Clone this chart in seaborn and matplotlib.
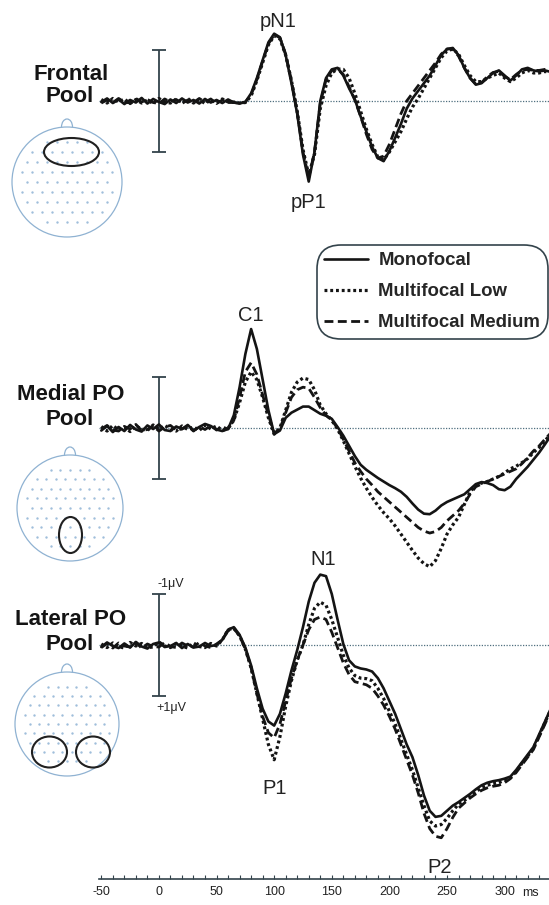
import numpy as np
import pandas as pd
import matplotlib
matplotlib.use('Agg')
import matplotlib.pyplot as plt
from matplotlib.patches import Circle, Ellipse, Arc
from matplotlib.lines import Line2D
import seaborn as sns

sns.set_style('white')
plt.rcParams['font.family'] = ['Liberation Sans', 'DejaVu Sans']

# ── DATA (µV, negative up) sampled every 5 ms from -50 to 340 ms ──────────
time_ms = np.arange(-50, 341, 5)
conditions = ['Monofocal', 'Multifocal Low', 'Multifocal Medium']

frontal_mono = [0.02, -0.05, 0.04, -0.03, 0.06, -0.02, 0.03, -0.06, 0.05, -0.04,
                0.02, 0.06, -0.03, 0.04, -0.05, 0.03, -0.02, 0.05, -0.04, 0.03,
                -0.02, 0.04, -0.03, 0.03, 0.05, 0.02, -0.15, -0.45, -0.8, -1.15,
                -1.32, -1.25, -0.9, -0.35, 0.25, 1.05, 1.58, 1.0, 0.0, -0.45,
                -0.62, -0.65, -0.5, -0.25, -0.03, 0.3, 0.6, 0.9, 1.12, 1.18,
                0.98, 0.72, 0.45, 0.15, -0.05, -0.2, -0.35, -0.5, -0.7, -0.9,
                -1.02, -1.04, -0.9, -0.65, -0.45, -0.32, -0.35, -0.45, -0.55, -0.6,
                -0.5, -0.4, -0.5, -0.62, -0.65, -0.6, -0.58, -0.6, -0.57]
frontal_low = [-0.03, 0.04, -0.05, 0.02, -0.04, 0.05, -0.03, 0.04, -0.02, 0.05,
               -0.05, 0.02, 0.04, -0.04, 0.03, -0.05, 0.04, -0.03, 0.05, -0.02,
               0.04, -0.04, 0.02, 0.02, 0.04, 0.03, -0.1, -0.4, -0.75, -1.1,
               -1.28, -1.22, -0.9, -0.4, 0.2, 0.95, 1.45, 1.05, 0.15, -0.3,
               -0.55, -0.63, -0.62, -0.45, -0.15, 0.2, 0.55, 0.85, 1.1, 1.15,
               1.0, 0.8, 0.6, 0.35, 0.12, -0.05, -0.25, -0.45, -0.65, -0.85,
               -0.98, -1.02, -0.92, -0.7, -0.5, -0.38, -0.38, -0.45, -0.5, -0.55,
               -0.45, -0.38, -0.45, -0.55, -0.6, -0.55, -0.55, -0.58, -0.55]
frontal_med = [0.04, -0.02, 0.03, -0.05, 0.02, 0.04, -0.05, 0.02, -0.03, 0.03,
               0.05, -0.04, 0.02, -0.03, 0.05, -0.02, 0.03, -0.05, 0.02, -0.04,
               0.05, -0.02, 0.03, 0.03, 0.04, 0.02, -0.12, -0.42, -0.78, -1.12,
               -1.3, -1.24, -0.92, -0.4, 0.22, 1.0, 1.5, 1.0, 0.05, -0.42,
               -0.6, -0.63, -0.52, -0.28, -0.02, 0.3, 0.65, 0.95, 1.12, 1.08,
               0.85, 0.55, 0.25, 0.0, -0.15, -0.3, -0.45, -0.6, -0.75, -0.92,
               -1.02, -1.02, -0.88, -0.65, -0.45, -0.33, -0.36, -0.48, -0.56, -0.58,
               -0.48, -0.42, -0.52, -0.6, -0.62, -0.6, -0.6, -0.62, -0.6]

medial_mono = [0.05, -0.04, 0.08, -0.02, 0.06, -0.06, 0.03, 0.07, -0.05, 0.02,
               -0.07, 0.04, 0.06, -0.03, 0.02, -0.06, 0.05, -0.02, -0.08, -0.04,
               0.03, 0.06, 0.02, -0.25, -0.8, -1.45, -1.94, -1.55, -0.95, -0.35,
               0.12, 0.05, -0.2, -0.3, -0.36, -0.42, -0.42, -0.35, -0.28, -0.24,
               -0.18, -0.02, 0.15, 0.35, 0.55, 0.72, 0.82, 0.9, 0.98, 1.05,
               1.12, 1.18, 1.25, 1.35, 1.48, 1.6, 1.68, 1.69, 1.62, 1.52,
               1.45, 1.4, 1.35, 1.3, 1.2, 1.1, 1.06, 1.08, 1.12, 1.2,
               1.22, 1.15, 1.0, 0.88, 0.76, 0.62, 0.48, 0.32, 0.15]
medial_low = [-0.03, 0.06, -0.05, 0.04, -0.02, 0.07, -0.04, 0.02, 0.05, -0.06,
              0.03, -0.05, 0.02, 0.06, -0.04, 0.03, -0.02, 0.05, -0.06, 0.02,
              -0.04, 0.05, 0.0, -0.15, -0.5, -0.9, -1.1, -0.95, -0.6, -0.2,
              0.12, 0.0, -0.35, -0.7, -0.9, -0.98, -0.95, -0.75, -0.45, -0.28,
              -0.15, 0.02, 0.25, 0.5, 0.75, 0.98, 1.18, 1.36, 1.52, 1.66,
              1.78, 1.92, 2.08, 2.24, 2.4, 2.55, 2.66, 2.72, 2.6, 2.36,
              2.08, 1.9, 1.75, 1.5, 1.25, 1.12, 1.08, 1.05, 1.0, 0.95,
              0.88, 0.8, 0.75, 0.68, 0.6, 0.48, 0.38, 0.25, 0.12]
medial_med = [0.02, -0.05, 0.04, 0.06, -0.03, 0.02, -0.07, 0.05, 0.03, -0.04,
              0.06, -0.02, -0.05, 0.04, 0.02, -0.04, 0.06, -0.03, 0.03, -0.05,
              0.04, -0.02, 0.02, -0.15, -0.6, -1.1, -1.28, -1.05, -0.65, -0.25,
              0.1, 0.02, -0.3, -0.6, -0.75, -0.8, -0.78, -0.6, -0.4, -0.25,
              -0.15, 0.0, 0.22, 0.45, 0.68, 0.85, 1.0, 1.12, 1.25, 1.35,
              1.45, 1.55, 1.65, 1.75, 1.85, 1.95, 2.02, 2.06, 2.03, 1.95,
              1.82, 1.72, 1.62, 1.48, 1.3, 1.15, 1.1, 1.05, 1.0, 0.95,
              0.9, 0.85, 0.8, 0.7, 0.58, 0.45, 0.35, 0.22, 0.1]

lateral_mono = [0.04, -0.05, 0.02, 0.06, -0.03, 0.05, -0.06, 0.03, 0.07, -0.02,
                -0.05, 0.04, 0.02, -0.04, 0.06, -0.02, 0.05, 0.03, -0.04, 0.02,
                0.0, -0.1, -0.3, -0.35, -0.2, 0.05, 0.4, 0.85, 1.25, 1.5,
                1.58, 1.35, 0.95, 0.5, 0.1, -0.35, -0.85, -1.22, -1.38, -1.35,
                -1.0, -0.5, -0.02, 0.3, 0.42, 0.46, 0.48, 0.52, 0.65, 0.85,
                1.1, 1.35, 1.65, 1.95, 2.2, 2.55, 2.95, 3.25, 3.37, 3.35,
                3.25, 3.15, 3.08, 3.0, 2.92, 2.83, 2.75, 2.7, 2.67, 2.65,
                2.62, 2.58, 2.45, 2.3, 2.15, 2.0, 1.75, 1.5, 1.25]
lateral_low = [-0.02, 0.05, -0.04, 0.03, 0.06, -0.05, 0.02, -0.03, 0.05, 0.04,
               -0.06, 0.02, 0.05, -0.03, 0.02, 0.06, -0.04, 0.03, 0.05, -0.03,
               0.02, -0.1, -0.3, -0.33, -0.18, 0.08, 0.45, 0.95, 1.45, 1.95,
               2.25, 1.8, 1.2, 0.7, 0.3, 0.0, -0.4, -0.72, -0.84, -0.78,
               -0.5, -0.15, 0.2, 0.45, 0.6, 0.65, 0.66, 0.7, 0.85, 1.05,
               1.3, 1.55, 1.85, 2.15, 2.45, 2.8, 3.15, 3.45, 3.55, 3.52,
               3.4, 3.25, 3.12, 3.05, 2.97, 2.88, 2.8, 2.75, 2.72, 2.7,
               2.65, 2.6, 2.48, 2.32, 2.18, 2.02, 1.78, 1.52, 1.27]
lateral_med = [0.05, -0.03, 0.06, -0.04, 0.02, 0.04, -0.05, 0.06, -0.02, 0.03,
               0.04, -0.05, 0.03, 0.05, -0.04, 0.02, 0.04, -0.05, 0.02, 0.05,
               -0.02, -0.1, -0.28, -0.32, -0.18, 0.08, 0.45, 0.95, 1.4, 1.72,
               1.82, 1.55, 1.1, 0.65, 0.3, 0.0, -0.3, -0.5, -0.55, -0.5,
               -0.25, 0.05, 0.35, 0.58, 0.72, 0.75, 0.78, 0.85, 1.0, 1.18,
               1.4, 1.65, 1.95, 2.25, 2.55, 2.9, 3.3, 3.6, 3.75, 3.78,
               3.6, 3.38, 3.2, 3.1, 3.0, 2.92, 2.85, 2.8, 2.77, 2.75,
               2.7, 2.62, 2.5, 2.35, 2.2, 2.05, 1.8, 1.55, 1.3]

time_ticks = [-50, 0, 50, 100, 150, 200, 250, 300]
time_tick_labels = ['-50', '0', '50', '100', '150', '200', '250', '300']

# ── LAYOUT (pixel units of the 549x905 canvas) ───────────────────────────
W, H = 549, 905
PX_PER_UV = 51
X_LEFT, X_WIDTH = 99, 450
T_MIN, T_MAX = -52, 338.5

INK = '#141414'
BAR = '#33434b'
HEAD_BLUE = '#8fb2d2'
DOT_BLUE = '#9fbedb'

line_styles = {
    'Monofocal':         dict(linestyle='-', lw=1.9),
    'Multifocal Low':    dict(linestyle=(0, (0.9, 0.9)), lw=2.3),
    'Multifocal Medium': dict(linestyle=(0, (3.2, 1.6)), lw=2.0),
}


def fx(px):
    return px / W


def fy(py):
    return 1 - py / H


fig = plt.figure(figsize=(W / 100, H / 100), dpi=100)

# background axis in pixel coordinates for heads and labels
ax_pix = fig.add_axes([0, 0, 1, 1])
ax_pix.set_xlim(0, W)
ax_pix.set_ylim(H, 0)
ax_pix.axis('off')


def draw_head(ax, cx, cy, r, rois):
    ax.add_patch(Circle((cx, cy), r, fill=False, ec=HEAD_BLUE, lw=0.9))
    ax.add_patch(Arc((cx, cy - r), 11, 16, theta1=180, theta2=360,
                     ec=HEAD_BLUE, lw=0.9))
    step = r * 0.18
    xs, ys = [], []
    for j in range(-5, 6):
        dy = j * step
        shift = step / 2 if j % 2 else 0
        for i in range(-7, 8):
            px, py = cx + i * step + shift, cy + dy
            if np.hypot(px - cx, py - cy) < r - 7:
                xs.append(px)
                ys.append(py)
    ax.scatter(xs, ys, s=3, color=DOT_BLUE, linewidths=0)
    for ex, ey, ew, eh in rois:
        ax.add_patch(Ellipse((ex, ey), ew, eh, fill=False, ec='#202020', lw=1.5))


draw_head(ax_pix, 67, 182, 55, [(71.5, 152, 55, 28)])
draw_head(ax_pix, 70, 508, 53, [(70.5, 535, 23, 36)])
draw_head(ax_pix, 67, 724, 52, [(49.5, 752, 35, 31), (93, 752, 34, 31)])

# pool names
for line1, base1, base2 in [('Frontal', 80, 102),
                            ('Medial PO', 400, 425),
                            ('Lateral PO', 625, 650)]:
    ax_pix.text(71, base1, line1, ha='center', va='baseline',
                fontsize=16, fontweight='bold', color=INK)
    ax_pix.text(70, base2, 'Pool', ha='center', va='baseline',
                fontsize=16, fontweight='bold', color=INK)

# component labels
for name, px, py in [('pN1', 278, 27), ('pP1', 309, 208), ('C1', 251, 321),
                     ('N1', 323, 565), ('P1', 275, 794), ('P2', 440, 873)]:
    ax_pix.text(px, py, name, ha='center', va='baseline', fontsize=14.5,
                color='#222222')

ax_pix.text(171, 587, '-1\u03bcV', ha='center', va='baseline', fontsize=9, color='#222222')
ax_pix.text(171, 711, '+1\u03bcV', ha='center', va='baseline', fontsize=9, color='#222222')
ax_pix.text(522, 896, 'ms', ha='left', va='baseline', fontsize=9, color='#222222')


# ── WAVEFORM PANELS ──────────────────────────────────────────────────────
def pool_axes(base_px, up_uv, down_uv):
    ax = fig.add_axes([fx(X_LEFT), fy(base_px + down_uv * PX_PER_UV),
                       X_WIDTH / W, (up_uv + down_uv) * PX_PER_UV / H])
    ax.set_xlim(T_MIN, T_MAX)
    ax.set_ylim(down_uv, -up_uv)   # negative up
    ax.patch.set_alpha(0)
    return ax


pools = [
    (101, 1.95, 2.0, [frontal_mono, frontal_low, frontal_med]),
    (428, 2.2, 2.9, [medial_mono, medial_low, medial_med]),
    (645, 1.6, 4.2, [lateral_mono, lateral_low, lateral_med]),
]

for base_px, up_uv, down_uv, series in pools:
    ax = pool_axes(base_px, up_uv, down_uv)
    ax.axhline(0, color='#4f6f7f', lw=0.9, ls=(0, (1, 1.2)), zorder=1)
    ax.errorbar([0], [0], yerr=[1], fmt='none', ecolor=BAR, elinewidth=1.3,
                capsize=5, capthick=1.3, zorder=1)
    df = pd.DataFrame({'time': np.tile(time_ms, 3),
                       'uV': np.concatenate(series),
                       'condition': np.repeat(conditions, len(time_ms))})
    # dotted / dashed first, solid on top
    for cond in ['Multifocal Low', 'Multifocal Medium', 'Monofocal']:
        sns.lineplot(data=df[df['condition'] == cond], x='time', y='uV',
                     ax=ax, color=INK, legend=False, zorder=3,
                     **line_styles[cond])
    ax.set_xlim(T_MIN, T_MAX)
    ax.set_ylim(down_uv, -up_uv)
    ax.axis('off')

# ── TIME AXIS ────────────────────────────────────────────────────────────
ax_t = fig.add_axes([fx(X_LEFT), fy(879), X_WIDTH / W, 1 / H])
ax_t.patch.set_alpha(0)
ax_t.set_xlim(T_MIN, T_MAX)
ax_t.set_yticks([])
for side in ['top', 'left', 'right']:
    ax_t.spines[side].set_visible(False)
ax_t.spines['bottom'].set_color(BAR)
ax_t.spines['bottom'].set_linewidth(1.2)
ax_t.set_xticks(time_ticks)
ax_t.set_xticklabels(time_tick_labels)
ax_t.set_xticks(np.arange(-50, 340, 10), minor=True)
ax_t.tick_params(axis='x', which='both', bottom=True, direction='in',
                 length=3, width=0.8, color=BAR, pad=5, labelsize=9,
                 labelcolor='#222222')

# ── LEGEND ───────────────────────────────────────────────────────────────
handles = [Line2D([], [], color=INK, **line_styles[c]) for c in conditions]
leg = fig.legend(handles, conditions, loc='upper left',
                 bbox_to_anchor=(fx(317), fy(245)), borderaxespad=0,
                 prop={'weight': 'bold', 'size': 13.4}, handlelength=2.35,
                 handletextpad=0.55, labelspacing=0.75, borderpad=0.4,
                 frameon=True, fancybox=True)
frame = leg.get_frame()
frame.set_boxstyle('round', pad=0, rounding_size=1.3)
frame.set_edgecolor(BAR)
frame.set_linewidth(1.2)
frame.set_facecolor('white')
frame.set_alpha(1)

fig.savefig('out.png', dpi=100)
